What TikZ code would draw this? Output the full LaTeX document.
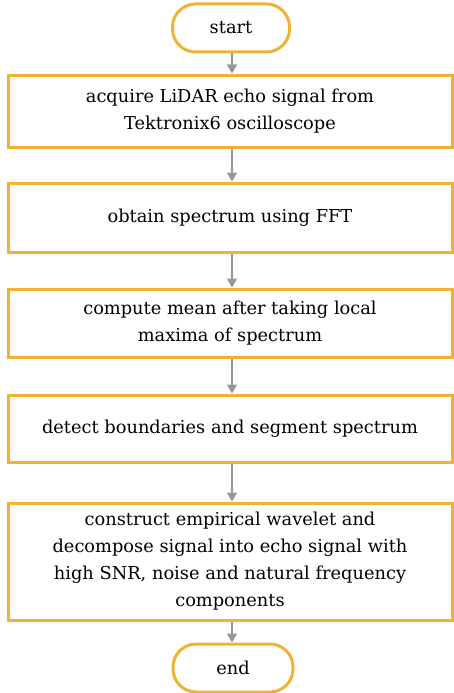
\documentclass[tikz,border=0pt]{standalone}
\usepackage{fontspec}
\setmainfont{DejaVu Serif}
\usetikzlibrary{arrows.meta}
\definecolor{boxorange}{RGB}{240,178,52}
\definecolor{flowgray}{RGB}{150,150,152}
\begin{document}
\begin{tikzpicture}[x=1pt,y=-1pt,
  every node/.style={font=\fontsize{17.8pt}{27pt}\selectfont, align=center, inner sep=0pt},
  procbox/.style={draw=boxorange, line width=3pt, fill=white, minimum width=444pt},
  termbox/.style={draw=boxorange, line width=3pt, fill=white, rounded corners=23pt,
                  minimum width=117pt, minimum height=48pt},
  flow/.style={draw=flowgray, line width=1.4pt, -{Triangle[length=9pt,width=10pt]}}]
\useasboundingbox (0,0) rectangle (453,693);
\node[termbox] (start) at (231,28) {start};
\node[procbox, minimum height=72pt] (acq) at (230,111)
  {acquire LiDAR echo signal from\\Tektronix6 oscilloscope};
\node[procbox, minimum height=69pt] (fft) at (230,217.5) {obtain spectrum using FFT};
\node[procbox, minimum height=68pt] (mean) at (230,323)
  {compute mean after taking local\\maxima of spectrum};
\node[procbox, minimum height=67pt] (seg) at (230,428.5)
  {detect boundaries and segment spectrum};
\node[procbox, minimum height=117pt] (ewt) at (230,561.5)
  {construct empirical wavelet and\\decompose signal into echo signal with\\high SNR, noise and natural frequency\\components};
\node[termbox, minimum width=120pt] (end) at (233,668) {end};
\draw[flow] (start.south -| 232,0) -- (acq.north -| 232,0);
\draw[flow] (acq.south -| 232,0) -- (fft.north -| 232,0);
\draw[flow] (fft.south -| 232,0) -- (mean.north -| 232,0);
\draw[flow] (mean.south -| 232,0) -- (seg.north -| 232,0);
\draw[flow] (seg.south -| 232,0) -- (ewt.north -| 232,0);
\draw[flow] (ewt.south -| 232,0) -- (end.north -| 232,0);
\end{tikzpicture}
\end{document}
